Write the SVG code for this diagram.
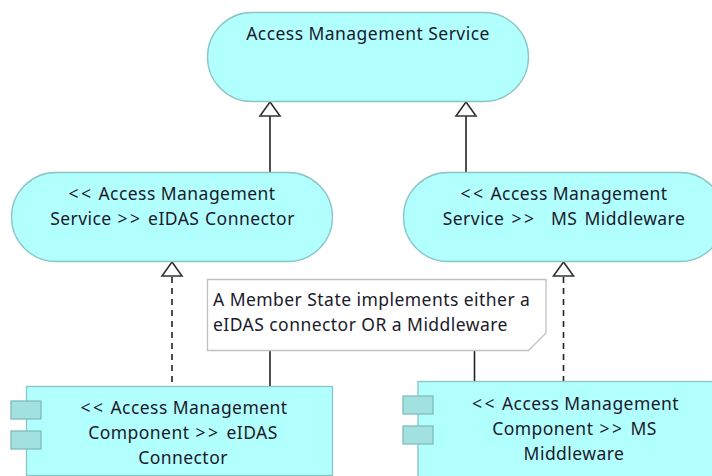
<svg xmlns="http://www.w3.org/2000/svg" width="712" height="476" viewBox="0 0 712 476">
<style>
.e{fill:#b2ffff;stroke:#8cc4c4;stroke-width:1.3}
.p{fill:#a3e0e0;stroke:#80bcbc;stroke-width:1.3}
.n{fill:#fff;stroke:#c0c0c0;stroke-width:1.3}
.c{fill:none;stroke:#222;stroke-width:1.6}
.d{stroke-dasharray:6 5}
.h{fill:#fff;stroke:#333;stroke-width:1.6}
text{font-family:"Noto Sans","Open Sans","Liberation Sans",sans-serif;font-size:17.5px;letter-spacing:.45px;fill:#1a1a2a;text-anchor:middle}
.l{text-anchor:start}
.s{letter-spacing:2.5px}
</style>
<rect width="712" height="476" fill="#fff"/>
<g id="connectors">
<path class="c" d="M270 116V172"/>
<path class="h" d="M270 102L260 116H280Z"/>
<path class="c" d="M466 116V172"/>
<path class="h" d="M466 102L456 116H476Z"/>
<path class="c d" d="M172 277V386"/>
<path class="h" d="M172 262L162 276H182Z"/>
<path class="c d" d="M563.500 277V381"/>
<path class="h" d="M563.500 262L553.500 276H573.500Z"/>
<path class="c" d="M270 351V386"/>
<path class="c" d="M474.500 351V381"/>
</g>
<g id="service-top">
<rect class="e" x="207.500" y="12.500" width="321" height="89" rx="44.500"/>
<text x="368" y="39.500">Access Management Service</text>
</g>
<g id="service-eidas">
<rect class="e" x="11.500" y="172.500" width="321" height="89" rx="44.500"/>
<text x="172" y="199.500"><tspan class="s">&lt;&lt;</tspan> Access Management</text>
<text x="172.500" y="224.500" word-spacing="0.7">Service <tspan class="s">&gt;&gt;</tspan> eIDAS Connector</text>
</g>
<g id="service-ms">
<rect class="e" x="403.500" y="172.500" width="321" height="89" rx="44.500"/>
<text x="564" y="199.500"><tspan class="s">&lt;&lt;</tspan> Access Management</text>
<text x="564" y="224.500" xml:space="preserve" word-spacing="2.2">Service <tspan class="s">&gt;&gt;</tspan>  MS Middleware</text>
</g>
<g id="note">
<path class="n" d="M207.500 279.500H546V333L528.500 350.500H207.500Z"/>
<text class="l" x="213" y="305.500">A Member State implements either a</text>
<text class="l" x="213" y="330.500">eIDAS connector OR a Middleware</text>
</g>
<g id="component-eidas">
<rect class="e" x="26.500" y="386.500" width="306" height="89"/>
<rect class="p" x="11" y="401" width="30" height="18"/>
<rect class="p" x="11" y="431" width="30" height="18"/>
<text x="184" y="413.500"><tspan class="s">&lt;&lt;</tspan> Access Management</text>
<text x="183" y="438.500" word-spacing="1">Component <tspan class="s">&gt;&gt;</tspan> eIDAS</text>
<text x="183" y="463.500">Connector</text>
</g>
<g id="component-ms">
<rect class="e" x="418" y="381.500" width="306" height="100"/>
<rect class="p" x="403" y="396" width="30" height="18"/>
<rect class="p" x="403" y="426" width="30" height="18"/>
<text x="575.500" y="409.500"><tspan class="s">&lt;&lt;</tspan> Access Management</text>
<text x="574.500" y="434.500" word-spacing="1">Component <tspan class="s">&gt;&gt;</tspan> MS</text>
<text x="574" y="459.500">Middleware</text>
</g>
</svg>
